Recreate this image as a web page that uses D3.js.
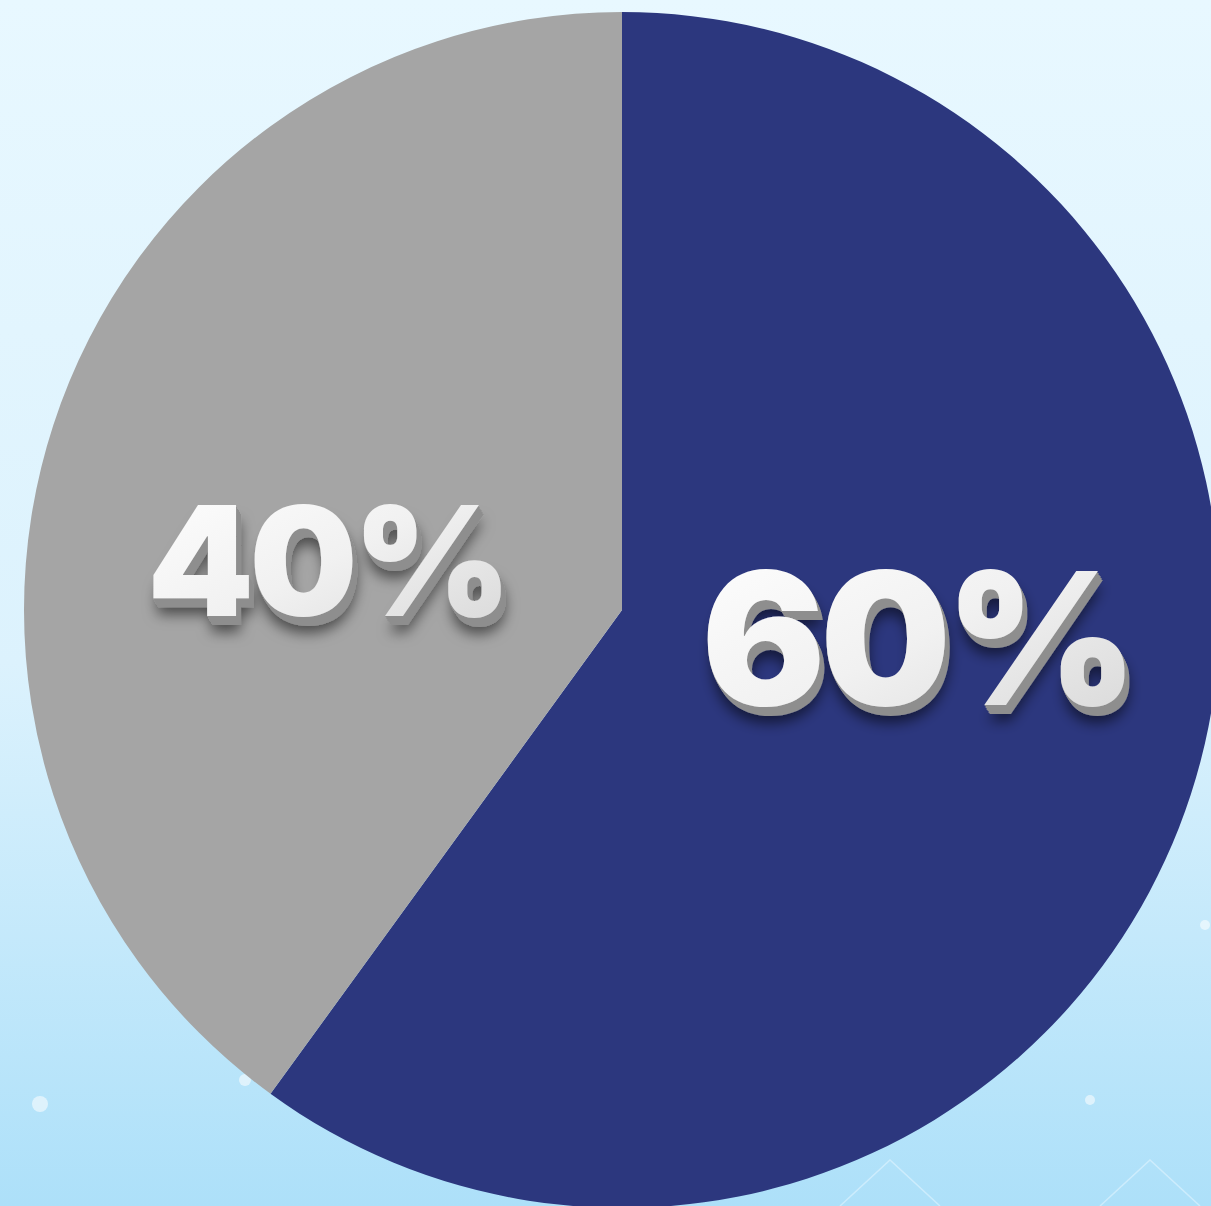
<!DOCTYPE html>
<html>
<head>
<meta charset="utf-8">
<script src="https://cdn.jsdelivr.net/npm/d3@7"></script>
<style>
  html, body { margin: 0; padding: 0; overflow: hidden; }
  svg { display: block; }
</style>
</head>
<body>
<div id="chart"></div>
<script>
var labels = ["60%", "40%"];
var shares = [60, 40];
var colors = ["#2c377e", "#a5a5a5"];

var width = 1211;
var height = 1206;
var cx = 622;
var cy = 610;
var radius = 598;

var svg = d3.select("#chart").append("svg")
  .attr("width", width)
  .attr("height", height);

var defs = svg.append("defs");

// light blue backdrop
var bg = defs.append("linearGradient")
  .attr("id", "bg").attr("x1", 0).attr("y1", 0).attr("x2", 0).attr("y2", 1);
bg.append("stop").attr("offset", "0%").attr("stop-color", "#e8f8ff");
bg.append("stop").attr("offset", "55%").attr("stop-color", "#dcf2fd");
bg.append("stop").attr("offset", "100%").attr("stop-color", "#ade0f9");

var face = defs.append("linearGradient")
  .attr("id", "face").attr("x1", 0).attr("y1", 0).attr("x2", 1).attr("y2", 1);
face.append("stop").attr("offset", "0%").attr("stop-color", "#ffffff");
face.append("stop").attr("offset", "50%").attr("stop-color", "#f1f1f1");
face.append("stop").attr("offset", "100%").attr("stop-color", "#d6d6d6");

// 3d look: drop shadow + extruded side, all in one filter
var emboss = defs.append("filter")
  .attr("id", "emboss").attr("x", "-20%").attr("y", "-30%")
  .attr("width", "140%").attr("height", "170%");
emboss.append("feGaussianBlur").attr("in", "SourceAlpha").attr("stdDeviation", 7).attr("result", "blur");
emboss.append("feOffset").attr("in", "blur").attr("dx", 4).attr("dy", 16).attr("result", "blurOff");
emboss.append("feFlood").attr("flood-color", "#000").attr("flood-opacity", 0.55).attr("result", "black");
emboss.append("feComposite").attr("in", "black").attr("in2", "blurOff").attr("operator", "in").attr("result", "shadow");

var steps = d3.range(1, 11);
steps.forEach(function (k) {
  emboss.append("feOffset").attr("in", "SourceAlpha")
    .attr("dx", k * 0.45).attr("dy", k * 0.9).attr("result", "o" + k);
});
var stack = emboss.append("feMerge").attr("result", "sideAlpha");
steps.forEach(function (k) { stack.append("feMergeNode").attr("in", "o" + k); });
emboss.append("feFlood").attr("flood-color", "#8e8e8e").attr("result", "grey");
emboss.append("feComposite").attr("in", "grey").attr("in2", "sideAlpha").attr("operator", "in").attr("result", "side");

var out = emboss.append("feMerge");
out.append("feMergeNode").attr("in", "shadow");
out.append("feMergeNode").attr("in", "side");
out.append("feMergeNode").attr("in", "SourceGraphic");

svg.append("rect")
  .attr("width", width).attr("height", height)
  .attr("fill", "url(#bg)");

// faint network-ish decoration at the bottom
var deco = svg.append("g").attr("opacity", 0.55);
deco.append("polyline")
  .attr("points", "840,1206 890,1160 940,1206")
  .attr("fill", "none").attr("stroke", "#e6f6ff").attr("stroke-width", 1.5);
deco.append("polyline")
  .attr("points", "1100,1206 1150,1160 1200,1206")
  .attr("fill", "none").attr("stroke", "#e6f6ff").attr("stroke-width", 1.5);
[[40, 1104, 8], [245, 1080, 6], [1090, 1100, 5], [1205, 925, 5]].forEach(function (p) {
  deco.append("circle").attr("cx", p[0]).attr("cy", p[1]).attr("r", p[2]).attr("fill", "#ffffff");
});

var g = svg.append("g").attr("transform", "translate(" + cx + "," + cy + ")");

var pie = d3.pie().sort(null).value(function (d) { return d; });
var arcs = pie(shares);

var arc = d3.arc().innerRadius(0).outerRadius(radius);
var labelArc = d3.arc().innerRadius(310).outerRadius(310);

g.selectAll("path.slice")
  .data(arcs)
  .enter()
  .append("path")
  .attr("class", "slice")
  .attr("d", arc)
  .attr("fill", function (d, i) { return colors[i]; });

var fontSize = d3.scaleLinear().domain([40, 60]).range([152, 184]);

function labelX(d) {
  return labelArc.centroid(d)[0];
}
function labelY(d) {
  // baseline: shifted so the caps sit around the centroid
  var size = fontSize(d.data);
  return labelArc.centroid(d)[1] * 0.4 - 10 + size * 0.36;
}

g.selectAll("text.label")
  .data(arcs)
  .enter()
  .append("text")
  .attr("class", "label")
  .text(function (d, i) { return labels[i]; })
  .attr("font-family", "Inter, 'Open Sans', sans-serif")
  .attr("font-weight", 900)
  .attr("text-anchor", "middle")
  .attr("letter-spacing", function (d) { return -fontSize(d.data) * 0.03; })
  .attr("font-size", function (d) { return fontSize(d.data); })
  .attr("x", labelX)
  .attr("y", labelY)
  .attr("fill", "url(#face)")
  .attr("filter", "url(#emboss)");
</script>
</body>
</html>
